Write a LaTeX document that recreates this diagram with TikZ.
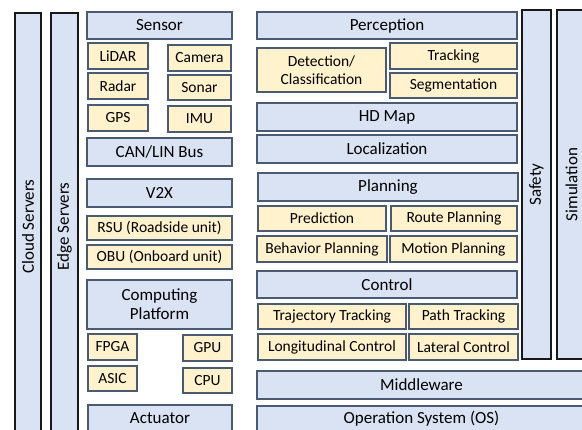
\documentclass[tikz,border=0pt]{standalone}
\usepackage{fontspec}
\setmainfont{Carlito}
\definecolor{boxblue}{HTML}{DAE3F3}
\definecolor{boxyellow}{HTML}{FFF2CC}
\definecolor{boxline}{HTML}{4A5A70}
\tikzset{
  blkbox/.style={draw=boxline, fill=boxblue, line width=1.5pt, inner sep=0pt, align=center, font=\fontsize{17}{19}\selectfont},
  subbox/.style={draw=boxline, fill=boxyellow, line width=1.5pt, inner sep=0pt, align=center, font=\fontsize{15.5}{18}\selectfont},
  sidebox/.style={draw=black!90, fill=boxblue, line width=1.8pt, inner sep=0pt, rotate=90, font=\fontsize{17}{19}\selectfont},
}

\begin{document}
\begin{tikzpicture}[x=1pt, y=-1pt]
    \useasboundingbox (0,0) rectangle (582,430);
    \clip (0,0) rectangle (582,430);
    \node[sidebox, minimum width=427, minimum height=26] (cloud) at (28,226.5) {Cloud Servers}; % cloud
    \node[sidebox, minimum width=427, minimum height=27] (edge) at (64.5,226.5) {Edge Servers}; % edge
    % sensor column
    \node[blkbox, minimum width=145, minimum height=27] (sensor) at (159.5,25.5) {Sensor};
    \node[subbox, minimum width=60, minimum height=26] (lidar) at (118,56) {LiDAR};
    \node[subbox, minimum width=63, minimum height=26] (camera) at (199.5,58) {Camera};
    \node[subbox, minimum width=60, minimum height=26] (radar) at (118,86) {Radar};
    \node[subbox, minimum width=63, minimum height=25] (sonar) at (199.5,87.5) {Sonar};
    \node[subbox, minimum width=60, minimum height=26] (gps) at (118,118) {GPS};
    \node[subbox, minimum width=63, minimum height=26] (imu) at (199.5,119) {IMU};
    \node[blkbox, minimum width=145, minimum height=28] (canbus) at (159.5,152) {CAN/LIN Bus};
    \node[blkbox, minimum width=145, minimum height=28] (vtwox) at (159.5,193) {V2X};
    \node[subbox, minimum width=145, minimum height=24] (rsu) at (159.5,228) {RSU (Roadside unit)};
    \node[subbox, minimum width=145, minimum height=24] (obu) at (159.5,257) {OBU (Onboard unit)};
    \node[blkbox, minimum width=145, minimum height=49] (compute) at (159.5,304.5) {Computing\\Platform};
    \node[subbox, minimum width=49, minimum height=26] (fpga) at (112.5,347) {FPGA};
    \node[subbox, minimum width=49, minimum height=26] (gpu) at (207.5,348) {GPU};
    \node[subbox, minimum width=49, minimum height=25] (asic) at (112.5,378.5) {ASIC};
    \node[subbox, minimum width=49, minimum height=25] (cpu) at (207.5,380.5) {CPU};
    \node[blkbox, minimum width=144, minimum height=27] (actuator) at (160,418.5) {Actuator};
    % software stack
    \node[blkbox, minimum width=260, minimum height=27] (perception) at (387,25.5) {Perception};
    \node[subbox, minimum width=129, minimum height=44] (detect) at (321.5,70) {Detection/\\Classification};
    \node[subbox, minimum width=127, minimum height=26] (tracking) at (453.5,56) {Tracking};
    \node[subbox, minimum width=127, minimum height=25] (segment) at (453.5,85.5) {Segmentation};
    \node[blkbox, minimum width=260, minimum height=28] (hdmap) at (387,117) {HD Map};
    \node[blkbox, minimum width=260, minimum height=28] (local) at (387,149) {Localization};
    \node[blkbox, minimum width=260, minimum height=28] (planning) at (388,187) {Planning};
    \node[subbox, minimum width=128, minimum height=25] (predict) at (322,218.5) {Prediction};
    \node[subbox, minimum width=126, minimum height=25] (route) at (454,218.5) {Route Planning};
    \node[subbox, minimum width=130, minimum height=26] (behavior) at (322,249) {Behavior Planning};
    \node[subbox, minimum width=127, minimum height=26] (motion) at (453.5,249) {Motion Planning};
    \node[blkbox, minimum width=260, minimum height=27] (control) at (387,284.5) {Control};
    \node[subbox, minimum width=148, minimum height=25] (traj) at (332,316.5) {Trajectory Tracking};
    \node[subbox, minimum width=109, minimum height=25] (path) at (463.5,316.5) {Path Tracking};
    \node[subbox, minimum width=148, minimum height=26] (longi) at (332,347) {Longitudinal Control};
    \node[subbox, minimum width=109, minimum height=26] (lateral) at (463.5,347) {Lateral Control};
    \node[blkbox, minimum width=329, minimum height=28] (middleware) at (421.5,385) {Middleware};
    \node[blkbox, minimum width=329, minimum height=26] (os) at (421.5,419) {Operation System (OS)};
    % side bars
    \node[sidebox, minimum width=349, minimum height=29] (safety) at (536.5,184.5) {Safety};
    \node[sidebox, minimum width=349, minimum height=29] (simulation) at (571.5,184.5) {Simulation};
\end{tikzpicture}
\end{document}
